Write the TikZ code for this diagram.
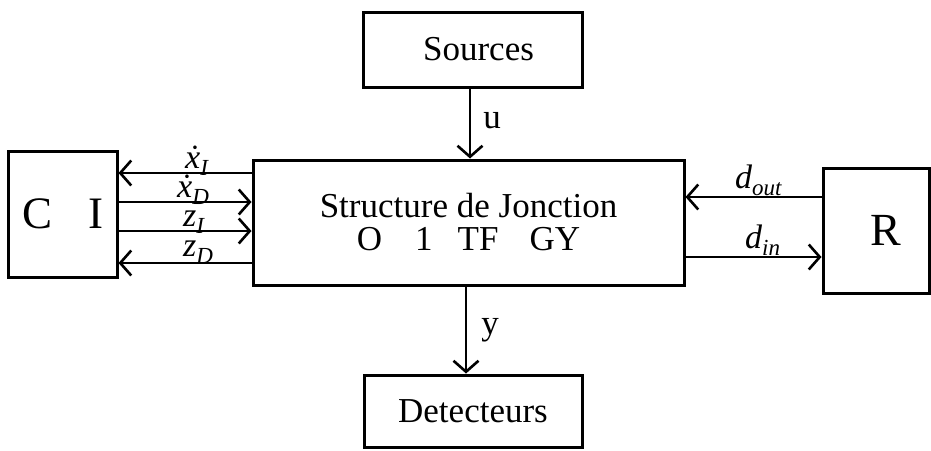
\documentclass[tikz,border=0pt]{standalone}
\usepackage{fontspec}
\setmainfont{Liberation Serif}
\usetikzlibrary{arrows.meta}
\newcommand\lblsub[1]{\raisebox{-0.22em}{\fontsize{23}{23}\selectfont\itshape #1}}
\tikzset{
  blk/.style={draw, line width=3pt, inner sep=0pt, font=\fontsize{35}{37}\selectfont},
  arr/.style={line width=2.6pt, -{Straight Barb[length=11pt,width=25pt,line width=2.6pt]}},
  sig/.style={anchor=base west, inner sep=0pt, font=\fontsize{34}{34}\selectfont\itshape},
  up/.style={inner sep=0pt, font=\fontsize{35}{35}\selectfont}
}
\begin{document}
\begin{tikzpicture}[x=1pt,y=-1pt]
  \useasboundingbox (0,0) rectangle (931,450);

  % blocks
  \node[blk, minimum width=219pt, minimum height=75pt] (src) at (472.5,49.5) {\hspace{12pt}Sources};
  \node[blk, minimum width=431pt, minimum height=125pt, align=center] (jn) at (468.5,222.5)
    {Structure de Jonction\\[-4pt]O\hspace{33pt}1\hspace{25pt}TF\hspace{31pt}GY\hspace{27pt}};
  \node[blk, minimum width=218pt, minimum height=72pt] (det) at (473,411) {Detecteurs};
  \node[blk, minimum width=109pt, minimum height=126pt, font=\fontsize{45}{45}\selectfont] (ci) at (62.5,214) {C\hspace{36pt}I};
  \node[blk, minimum width=106pt, minimum height=125pt, font=\fontsize{46}{46}\selectfont] (r) at (876,230.5) {\hspace{20pt}R};

  % vertical signals
  \draw[arr] (src.south -| 470,0) -- (jn.north -| 470,0);
  \draw[arr] (jn.south -| 466,0) -- (det.north -| 466,0);
  \node[up] (lu) at (492,121) {u};
  \node[up] (ly) at (490,330) {y};

  % state and co-energy links with CI
  \draw[arr] (jn.west |- 0,173) -- (ci.east |- 0,173);
  \draw[arr] (ci.east |- 0,202) -- (jn.west |- 0,202);
  \draw[arr] (ci.east |- 0,231) -- (jn.west |- 0,231);
  \draw[arr] (jn.west |- 0,263) -- (ci.east |- 0,263);
  \node[sig] (lxi) at (185,168) {\.x\lblsub{I}};
  \node[sig] (lxd) at (177,197) {\.x\lblsub{D}};
  \node[sig] (lzi) at (183,226) {z\lblsub{I}};
  \node[sig] (lzd) at (183,256) {z\lblsub{D}};

  % dissipation links with R
  \draw[arr] (r.west |- 0,197) -- (jn.east |- 0,197);
  \draw[arr] (jn.east |- 0,257) -- (r.west |- 0,257);
  \node[sig] (ldo) at (735,188) {d\lblsub{out}};
  \node[sig] (ldi) at (745,248) {d\lblsub{in}};
\end{tikzpicture}
\end{document}
